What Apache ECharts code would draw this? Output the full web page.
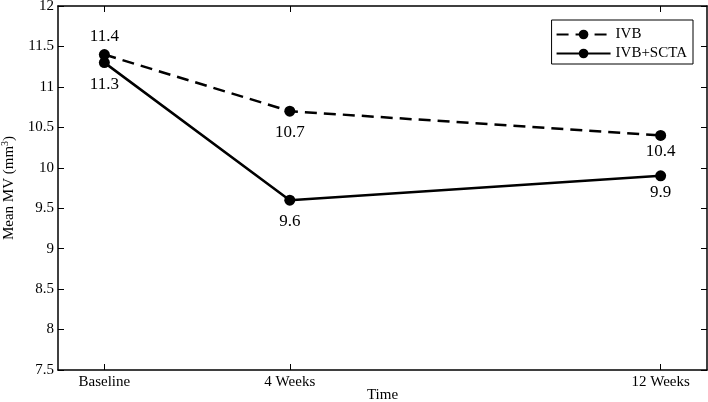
<!DOCTYPE html>
<html><head><meta charset="utf-8">
<script src="https://cdn.jsdelivr.net/npm/echarts@6/dist/echarts.min.js"></script>
<style>html,body{margin:0;padding:0;background:#fff}#c{width:708px;height:402px}</style>
</head><body><div id="c"></div>
<script>
const timePoints = [0, 4, 12];
const timeLabels = ['Baseline', '4 Weeks', '12 Weeks'];
const ivb = [11.4, 10.7, 10.4];
const ivbScta = [11.3, 9.6, 9.9];
const yTicks = [7.5, 8, 8.5, 9, 9.5, 10, 10.5, 11, 11.5, 12];

const FONT = '"Liberation Serif", "DejaVu Serif", serif';
const labelPos = { ivb: ['top', 'bottom', 'bottom'], scta: ['bottom', 'bottom', 'bottom'] };
const labelDist = { ivb: [4, 7, 2], scta: [8, 7, 3] };

function mk(vals, pos, dist) {
  return vals.map((v, i) => ({
    value: [timePoints[i], v],
    label: { position: pos[i], distance: dist[i] }
  }));
}

const chart = echarts.init(document.getElementById('c'), null, { renderer: 'canvas' });
const axisLine = { show: true, onZero: false, lineStyle: { color: '#000', width: 1.5 } };
chart.setOption({
  animation: false,
  backgroundColor: '#fff',
  grid: { left: 58, right: 1, top: 6, bottom: 32, containLabel: false, outerBoundsMode: 'none' },
  legend: {
    right: 15, top: 20,
    orient: 'vertical',
    itemWidth: 54, itemHeight: 12, itemGap: 4,
    padding: [7, 6, 3, 4],
    borderColor: '#000', borderWidth: 1,
    textStyle: { fontFamily: FONT, fontSize: 15, color: '#000' },
    data: ['IVB', 'IVB+SCTA']
  },
  xAxis: [{
    type: 'value', min: -1, max: 13,
    name: 'Time', nameLocation: 'middle', nameGap: 18, nameMoveOverlap: false,
    nameTextStyle: { fontFamily: FONT, fontSize: 15, color: '#000' },
    axisLine: axisLine,
    axisTick: { show: true, inside: true, length: 6, customValues: timePoints, lineStyle: { color: '#000' } },
    axisLabel: { customValues: timePoints, formatter: v => timeLabels[timePoints.indexOf(v)] || '',
      fontFamily: FONT, fontSize: 15, color: '#000', margin: 5 },
    splitLine: { show: false }
  }, {
    type: 'value', min: -1, max: 13, position: 'top',
    axisLine: axisLine,
    axisTick: { show: true, inside: true, length: 6, customValues: timePoints, lineStyle: { color: '#000' } },
    axisLabel: { show: false }, splitLine: { show: false }
  }],
  yAxis: [{
    type: 'value', min: 7.5, max: 12, interval: 0.5,
    name: 'Mean MV (mm{sup|3})', nameLocation: 'middle', nameGap: 40, nameMoveOverlap: false,
    nameTextStyle: { fontFamily: FONT, fontSize: 15, color: '#000',
      rich: { sup: { fontFamily: FONT, fontSize: 10, verticalAlign: 'top', padding: [0, 0, 8, 0] } } },
    axisLine: axisLine,
    axisTick: { show: true, inside: true, length: 6, lineStyle: { color: '#000' } },
    axisLabel: { fontFamily: FONT, fontSize: 15, color: '#000', margin: 4, formatter: v => String(v) },
    splitLine: { show: false }
  }, {
    type: 'value', min: 7.5, max: 12, interval: 0.5, position: 'right',
    axisLine: axisLine,
    axisTick: { show: true, inside: true, length: 6, lineStyle: { color: '#000' } },
    axisLabel: { show: false }, splitLine: { show: false }
  }],
  series: [{
    name: 'IVB', type: 'line',
    data: mk(ivb, labelPos.ivb, labelDist.ivb),
    symbol: 'circle', symbolSize: 11,
    itemStyle: { color: '#000' },
    lineStyle: { color: '#000', width: 2.5, type: [12, 7] },
    label: { show: true, fontFamily: FONT, fontSize: 17, color: '#000' }
  }, {
    name: 'IVB+SCTA', type: 'line',
    data: mk(ivbScta, labelPos.scta, labelDist.scta),
    symbol: 'circle', symbolSize: 11,
    itemStyle: { color: '#000' },
    lineStyle: { color: '#000', width: 2.5 },
    label: { show: true, fontFamily: FONT, fontSize: 17, color: '#000' }
  }]
});
</script></body></html>
